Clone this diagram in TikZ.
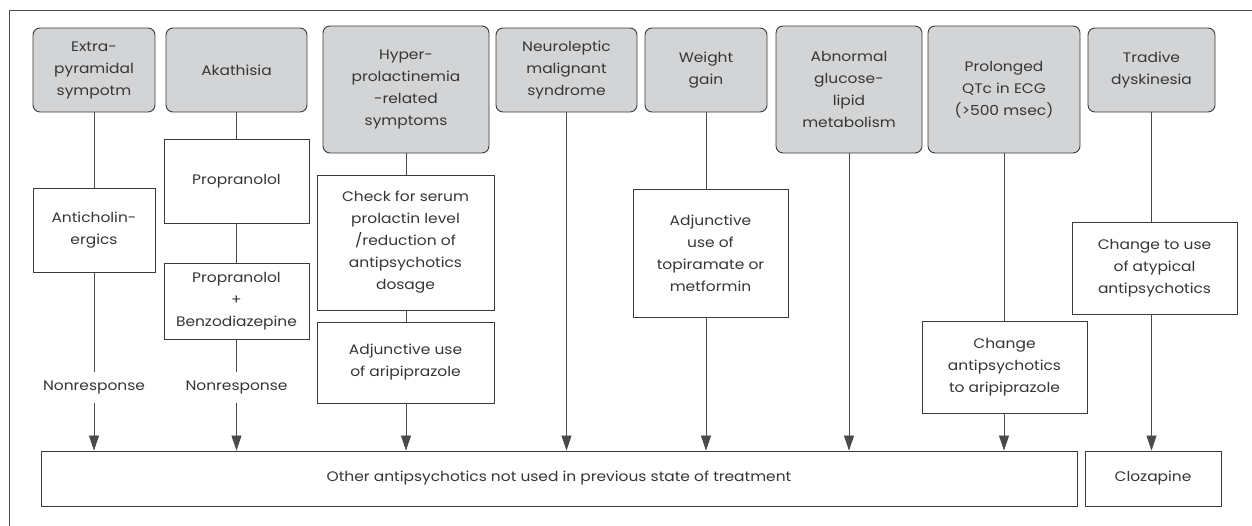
\documentclass[tikz,border=0pt]{standalone}
\usepackage{fontspec}
\setmainfont{Poppins}[FakeStretch=1.12]
\usetikzlibrary{arrows.meta}
\definecolor{hdrfill}{HTML}{D3D4D6}
\definecolor{edge}{HTML}{3A3A3A}
\definecolor{txt}{HTML}{363636}
\definecolor{lncol}{HTML}{4A4A4A}
\begin{document}
\begin{tikzpicture}[x=1pt,y=-1pt,
 every node/.style={font=\fontsize{13.8}{22}\selectfont, text=txt, align=center, inner sep=0pt},
 hdr/.style={draw=edge, fill=hdrfill, rounded corners=7pt, line width=0.9pt},
 bx/.style={draw=edge, fill=white, line width=0.9pt},
 lbl/.style={minimum height=31pt, fill=white},
 ln/.style={draw=lncol, line width=0.8pt},
 arr/.style={ln, -{Triangle[length=15pt,width=10pt]}}
]
\useasboundingbox (0,0) rectangle (1252,525);
% frame
\draw[ln] (9,540) -- (9,10) -- (1270,10);
% headers
\node[hdr, minimum width=122pt, minimum height=84pt] (h1) at (94,70) {Extra-\\pyramidal\\sympotm};
\node[hdr, minimum width=141pt, minimum height=84pt] (h2) at (236.5,70) {Akathisia};
\node[hdr, minimum width=166pt, minimum height=127pt] (h3) at (406,89.5) {Hyper-\\prolactinemia\\-related\\symptoms};
\node[hdr, minimum width=141pt, minimum height=84pt] (h4) at (566.5,70) {Neuroleptic\\malignant\\syndrome};
\node[hdr, minimum width=122pt, minimum height=84pt] (h5) at (706,70) {Weight\\gain};
\node[hdr, minimum width=146pt, minimum height=127pt] (h6) at (849,89.5) {Abnormal\\glucose-\\lipid\\metabolism};
\node[hdr, minimum width=152pt, minimum height=127pt] (h7) at (1004,89.5) {Prolonged\\QTc in ECG\\(>500 msec)};
\node[hdr, minimum width=127pt, minimum height=84pt] (h8) at (1151.5,70) {Tradive\\dyskinesia};
% second level
\node[bx, minimum width=122pt, minimum height=84pt] (b1) at (94,230) {Anticholin-\\ergics};
\node[bx, minimum width=145pt, minimum height=84pt] (b2a) at (236.5,181) {Propranolol};
\node[bx, minimum width=145pt, minimum height=76pt] (b2b) at (236.5,301) {Propranolol\\+\\Benzodiazepine};
\node[bx, minimum width=177pt, minimum height=135pt] (b3a) at (405.5,242.5) {Check for serum\\prolactin level\\/reduction of\\antipsychotics\\dosage};
\node[bx, minimum width=177pt, minimum height=81pt] (b3b) at (405.5,362.5) {Adjunctive use\\of aripiprazole};
\node[bx, minimum width=155pt, minimum height=128pt] (b5) at (710.5,253) {Adjunctive\\use of\\topiramate or\\metformin};
\node[bx, minimum width=165pt, minimum height=92pt] (b7) at (1004.5,367) {Change\\antipsychotics\\to aripiprazole};
\node[bx, minimum width=165pt, minimum height=92pt] (b8) at (1154.5,268) {Change to use\\of atypical\\antipsychotics};
% bottom
\node[bx, minimum width=1036pt, minimum height=55pt] (big) at (559,478.5) {Other antipsychotics not used in previous state of treatment};
\node[bx, minimum width=136pt, minimum height=55pt] (cloz) at (1153,478.5) {Clozapine};
% labels
\node[lbl] (n1) at (94,387.5) {Nonresponse};
\node[lbl] (n2) at (236.5,387.5) {Nonresponse};
% connectors
\draw[ln] (h1) -- (b1);
\draw[ln] (b1) -- (n1);
\draw[arr] (n1) -- (n1 |- big.north);
\draw[ln] (h2) -- (b2a);
\draw[ln] (b2a) -- (b2b);
\draw[ln] (b2b) -- (n2);
\draw[arr] (n2) -- (n2 |- big.north);
\draw[ln] (h3.south) -- (h3.south |- b3a.north);
\draw[ln] (h3.south |- b3a.south) -- (h3.south |- b3b.north);
\draw[arr] (h3.south |- b3b.south) -- (h3.south |- big.north);
\draw[arr] (h4) -- (h4 |- big.north);
\draw[ln] (h5.south) -- (h5.south |- b5.north);
\draw[arr] (h5.south |- b5.south) -- (h5.south |- big.north);
\draw[arr] (h6.south) -- (h6.south |- big.north);
\draw[ln] (h7.south) -- (h7.south |- b7.north);
\draw[arr] (h7.south |- b7.south) -- (h7.south |- big.north);
\draw[ln] (h8.south) -- (h8.south |- b8.north);
\draw[arr] (h8.south |- b8.south) -- (h8.south |- cloz.north);
\end{tikzpicture}
\end{document}
